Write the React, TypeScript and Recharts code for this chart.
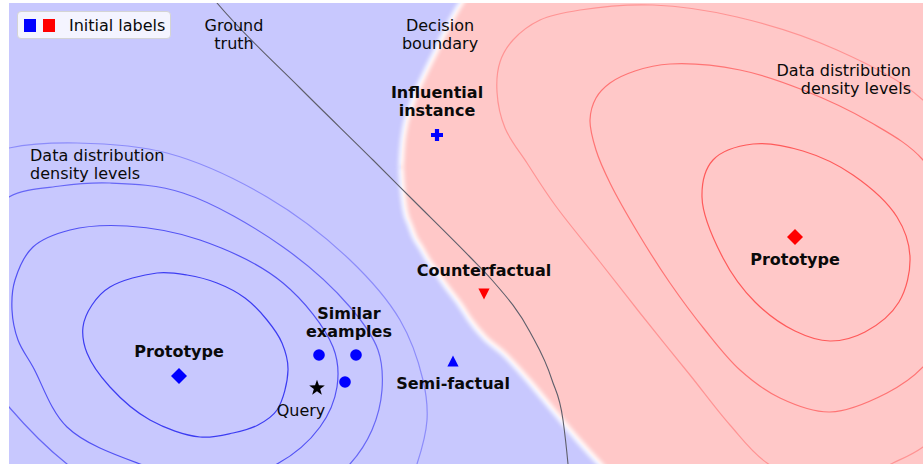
import React from 'react';
import { ComposedChart, XAxis, YAxis, Area, Line, Scatter, Legend } from 'recharts';

type Pt = [number, number];

const CHART_W = 923;
const CHART_H = 464;
const FONT = '"DejaVu Sans", "Liberation Sans", sans-serif';
const LINE_H = 18;

// plane coordinates: x to the right, y up; the frame shows x 0..914, y 0..461
const X_DOMAIN: [number, number] = [0, 914];
const Y_DOMAIN: [number, number] = [0, 461];

// decision boundary, read at fixed x: lower and upper edge of the red class region
const boundaryX = [392, 393, 396, 401, 406, 411, 419, 426, 437, 452, 461, 476, 494, 519, 544, 569, 591, 606, 940];
const boundaryLow = [297, 281, 254, 239, 226, 218, 204, 194, 178, 158, 144, 126, 111, 84, 54, 24, 0, -15, -15];
const boundaryHigh = [297, 314, 337, 354, 369, 380, 397, 411, 434, 461, 474, 480, 480, 480, 480, 480, 480, 480, 480];

// ground truth separation
const truthX = [203, 208, 291, 364, 404, 461, 483, 521, 543, 554, 559, 560];
const truthY = [467, 461, 376, 304, 264, 207, 184, 132, 84, 44, 0, -11];

// density levels of the blue class (inner -> outer)
const blueLevel1: Pt[] = [
  [74, 137], [83, 159], [101, 177], [148, 191], [178, 189], [208, 181], [236, 166],
  [258, 144], [273, 121], [279, 94], [268, 54], [249, 39], [224, 31], [191, 27],
  [141, 44], [101, 77], [78, 111],
];
const blueLevel2: Pt[] = [
  [6, 184], [24, 217], [61, 234], [118, 238], [191, 224], [274, 181], [324, 117],
  [328, 77], [311, 37], [268, 0], [206, -18], [131, 0], [58, 37], [24, 97], [9, 124], [3, 154],
];
const blueLevel3: Pt[] = [
  [-44, 164], [-29, 234], [0, 267], [51, 278], [101, 281], [174, 271], [274, 217],
  [341, 157], [369, 114], [373, 74], [363, 34], [341, 0], [291, -41], [211, -61],
  [131, -46], [58, 0], [0, 57], [-34, 104],
];
const blueLevel4: Pt[] = [
  [0, 316], [68, 321], [158, 311], [258, 267], [341, 204], [391, 144], [414, 84],
  [418, 44], [408, 0], [386, -51], [321, -96], [221, -114], [111, -96], [11, -41],
  [-59, 44], [-89, 144], [-84, 244], [-49, 299],
];

// density levels of the red class (inner -> outer)
const redLevel1: Pt[] = [
  [693, 267], [704, 304], [744, 320], [794, 313], [844, 289], [888, 247], [901, 207],
  [890, 162], [856, 132], [821, 123], [786, 133], [746, 162], [714, 206],
];
const redLevel2: Pt[] = [
  [581, 344], [587, 366], [601, 381], [626, 393], [661, 400], [731, 394], [794, 374],
  [861, 342], [914, 304], [951, 234], [951, 154], [914, 97], [878, 71], [821, 52],
  [771, 66], [731, 94], [696, 134], [661, 181], [629, 231], [601, 281], [587, 314],
];
const redLevel3: Pt[] = [
  [488, 372], [491, 402], [504, 424], [531, 444], [571, 454], [644, 459], [728, 447],
  [828, 414], [914, 364], [966, 294], [981, 164], [951, 54], [914, 17], [884, 1],
  [821, -26], [758, 1], [721, 39], [681, 89], [631, 151], [591, 202], [546, 259],
  [518, 301], [496, 336],
];

const blueContours = [blueLevel1, blueLevel2, blueLevel3, blueLevel4];
const blueContourColors = ['#3c3cf2', '#5252f4', '#6767f6', '#8c8cfa'];
const redContours = [redLevel1, redLevel2, redLevel3];
const redContourColors = ['#ff5a5a', '#ff7474', '#ff9494'];

// explanation points
const prototypeBlue: Pt[] = [[170, 88]];
const prototypeRed: Pt[] = [[786, 227]];
const similarExamples: Pt[] = [[310, 109], [347, 109], [336, 82]];
const queryPoint: Pt[] = [[308, 76]];
const semiFactual: Pt[] = [[444, 102]];
const counterfactual: Pt[] = [[475, 171]];
const influential: Pt[] = [[428, 329]];

// annotations (centre of the text block)
const plainNotes = [
  { x: 225, y: 430, text: ['Ground', 'truth'] },
  { x: 431, y: 430, text: ['Decision', 'boundary'] },
  { x: 292, y: 54, text: ['Query'] },
];
const boldNotes = [
  { x: 428, y: 363, text: ['Influential', 'instance'] },
  { x: 170, y: 113, text: ['Prototype'] },
  { x: 786, y: 205, text: ['Prototype'] },
  { x: 340, y: 142, text: ['Similar', 'examples'] },
  { x: 444, y: 81, text: ['Semi-factual'] },
  { x: 475, y: 194, text: ['Counterfactual'] },
];
const leftNotes = [{ x: 21, y: 300, text: ['Data distribution', 'density levels'] }];
const rightNotes = [{ x: 902, y: 385, text: ['Data distribution', 'density levels'] }];

const legendColors = ['#0000ff', '#ff0000'];
const legendLabel = 'Initial labels';

const rows = (pts: Pt[]) => pts.map(([x, y]) => ({ x, y }));
const zip = (xs: number[], ys: number[]) => xs.map((x, i) => ({ x, y: ys[i] }));

const blueRegion = [
  { x: -20, band: [-30, 490] },
  { x: 940, band: [-30, 490] },
];
const redRegion = boundaryX.map((x, i) => ({ x, band: [boundaryLow[i], boundaryHigh[i]] }));

// closed centripetal Catmull-Rom curve: passes through every read point without overshoot
const closedCurve = (context: any) => {
  let pts: Pt[] = [];
  return {
    areaStart() {},
    areaEnd() {},
    lineStart() {
      pts = [];
    },
    point(x: number, y: number) {
      pts.push([x, y]);
    },
    lineEnd() {
      const n = pts.length;
      if (!n) return;
      const d = (a: Pt, b: Pt) => Math.hypot(b[0] - a[0], b[1] - a[1]);
      context.moveTo(pts[0][0], pts[0][1]);
      for (let i = 0; i < n; i++) {
        const p0 = pts[(i - 1 + n) % n];
        const p1 = pts[i];
        const p2 = pts[(i + 1) % n];
        const p3 = pts[(i + 2) % n];
        const l01 = Math.sqrt(d(p0, p1));
        const l12 = Math.sqrt(d(p1, p2));
        const l23 = Math.sqrt(d(p2, p3));
        const l01s = l01 * l01;
        const l12s = l12 * l12;
        const l23s = l23 * l23;
        let c1x = p1[0];
        let c1y = p1[1];
        let c2x = p2[0];
        let c2y = p2[1];
        if (l01 > 1e-6) {
          const a = 2 * l01s + 3 * l01 * l12 + l12s;
          const m = 3 * l01 * (l01 + l12);
          c1x = (p1[0] * a - p0[0] * l12s + p2[0] * l01s) / m;
          c1y = (p1[1] * a - p0[1] * l12s + p2[1] * l01s) / m;
        }
        if (l23 > 1e-6) {
          const b = 2 * l23s + 3 * l23 * l12 + l12s;
          const m = 3 * l23 * (l23 + l12);
          c2x = (p2[0] * b + p1[0] * l23s - p3[0] * l12s) / m;
          c2y = (p2[1] * b + p1[1] * l23s - p3[1] * l12s) / m;
        }
        context.bezierCurveTo(c1x, c1y, c2x, c2y, p2[0], p2[1]);
      }
      context.closePath();
    },
  };
};

type Kind = 'diamond' | 'circle' | 'star' | 'triUp' | 'triDown' | 'plus';

const marker = (kind: Kind, color: string) => (props: any) => {
  const { cx, cy } = props;
  if (cx == null || cy == null) return <g />;
  if (kind === 'diamond') {
    const s = 8;
    return <polygon points={`${cx},${cy - s} ${cx + s},${cy} ${cx},${cy + s} ${cx - s},${cy}`} fill={color} />;
  }
  if (kind === 'circle') return <circle cx={cx} cy={cy} r={5.8} fill={color} />;
  if (kind === 'triUp') {
    return <polygon points={`${cx},${cy - 6.5} ${cx + 5.6},${cy + 4.5} ${cx - 5.6},${cy + 4.5}`} fill={color} />;
  }
  if (kind === 'triDown') {
    return <polygon points={`${cx},${cy + 6.5} ${cx + 5.6},${cy - 4.5} ${cx - 5.6},${cy - 4.5}`} fill={color} />;
  }
  if (kind === 'star') {
    const pts: string[] = [];
    for (let i = 0; i < 10; i++) {
      const r = i % 2 === 0 ? 8.2 : 3.3;
      const a = -Math.PI / 2 + (i * Math.PI) / 5;
      pts.push(`${cx + r * Math.cos(a)},${cy + r * Math.sin(a)}`);
    }
    return <polygon points={pts.join(' ')} fill={color} />;
  }
  const a = 6;
  const t = 2.1;
  return (
    <path
      d={`M${cx - t},${cy - a}H${cx + t}V${cy - t}H${cx + a}V${cy + t}H${cx + t}V${cy + a}H${cx - t}V${cy + t}H${cx - a}V${cy - t}H${cx - t}Z`}
      fill={color}
    />
  );
};

const noteShape = (anchor: 'start' | 'middle' | 'end', weight: string) => (props: any) => {
  const { cx, cy, payload } = props;
  const lines: string[] = payload.text;
  return (
    <text textAnchor={anchor} fontFamily={FONT} fontSize={16} fontWeight={weight} fill="#0a0a0a">
      {lines.map((line, i) => (
        <tspan key={i} x={cx} y={cy + (i - (lines.length - 1) / 2) * LINE_H + 6}>
          {line}
        </tspan>
      ))}
    </text>
  );
};

const renderLegend = () => (
  <div
    style={{
      display: 'flex',
      alignItems: 'center',
      height: 26,
      padding: '0 5px 0 6px',
      background: 'rgba(255,255,255,0.8)',
      border: '1px solid #d4d4d4',
      borderRadius: 4,
      fontFamily: FONT,
      fontSize: 16,
      color: '#0a0a0a',
      whiteSpace: 'nowrap',
    }}
  >
    {legendColors.map((c, i) => (
      <span
        key={c}
        style={{ display: 'inline-block', width: 12, height: 13, background: c, marginLeft: i ? 7 : 0 }}
      />
    ))}
    <span style={{ marginLeft: 14 }}>{legendLabel}</span>
  </div>
);

export default function App() {
  return (
    <div style={{ position: 'absolute', left: 0, top: 0, width: CHART_W, height: CHART_H, background: '#fff' }}>
      <style>{'.boundary-glow path{filter:blur(2px)}'}</style>
      <ComposedChart width={CHART_W} height={CHART_H} margin={{ top: 3, right: 0, bottom: 0, left: 9 }}>
        <XAxis type="number" dataKey="x" domain={X_DOMAIN} allowDataOverflow hide />
        <YAxis type="number" dataKey="y" domain={Y_DOMAIN} allowDataOverflow hide />
        <Legend
          content={renderLegend}
          layout="vertical"
          align="center"
          verticalAlign="middle"
          wrapperStyle={{ left: 17, top: 11, width: 'auto', height: 'auto' }}
        />

        <Area data={blueRegion} dataKey="band" type="linear" fill="#c8c8fe" fillOpacity={1} stroke="none" activeDot={false} isAnimationActive={false} />
        <Area data={redRegion} dataKey="band" type="monotone" fill="#ffc8c8" fillOpacity={1} stroke="none" activeDot={false} isAnimationActive={false} />
        <Line data={zip(boundaryX, boundaryLow)} dataKey="y" type="monotone" stroke="#ffffff" strokeWidth={5} className="boundary-glow" dot={false} activeDot={false} isAnimationActive={false} />
        <Line data={zip(boundaryX, boundaryHigh)} dataKey="y" type="monotone" stroke="#ffffff" strokeWidth={5} className="boundary-glow" dot={false} activeDot={false} isAnimationActive={false} />

        {blueContours.map((c, i) => (
          <Line key={`b${i}`} data={rows(c)} dataKey="y" type={closedCurve as any} stroke={blueContourColors[i]} strokeWidth={1.2} dot={false} activeDot={false} isAnimationActive={false} />
        ))}
        {redContours.map((c, i) => (
          <Line key={`r${i}`} data={rows(c)} dataKey="y" type={closedCurve as any} stroke={redContourColors[i]} strokeWidth={1.2} dot={false} activeDot={false} isAnimationActive={false} />
        ))}

        <Line data={zip(truthX, truthY)} dataKey="y" type="monotone" stroke="#5e5e6a" strokeWidth={1.1} dot={false} activeDot={false} isAnimationActive={false} />

        <Scatter data={rows(prototypeBlue)} shape={marker('diamond', '#0000ff')} isAnimationActive={false} />
        <Scatter data={rows(prototypeRed)} shape={marker('diamond', '#ff0000')} isAnimationActive={false} />
        <Scatter data={rows(similarExamples)} shape={marker('circle', '#0000ff')} isAnimationActive={false} />
        <Scatter data={rows(queryPoint)} shape={marker('star', '#000000')} isAnimationActive={false} />
        <Scatter data={rows(semiFactual)} shape={marker('triUp', '#0000ff')} isAnimationActive={false} />
        <Scatter data={rows(counterfactual)} shape={marker('triDown', '#ff0000')} isAnimationActive={false} />
        <Scatter data={rows(influential)} shape={marker('plus', '#0000ff')} isAnimationActive={false} />

        <Scatter data={plainNotes} shape={noteShape('middle', 'normal')} isAnimationActive={false} />
        <Scatter data={boldNotes} shape={noteShape('middle', 'bold')} isAnimationActive={false} />
        <Scatter data={leftNotes} shape={noteShape('start', 'normal')} isAnimationActive={false} />
        <Scatter data={rightNotes} shape={noteShape('end', 'normal')} isAnimationActive={false} />
      </ComposedChart>
    </div>
  );
}
